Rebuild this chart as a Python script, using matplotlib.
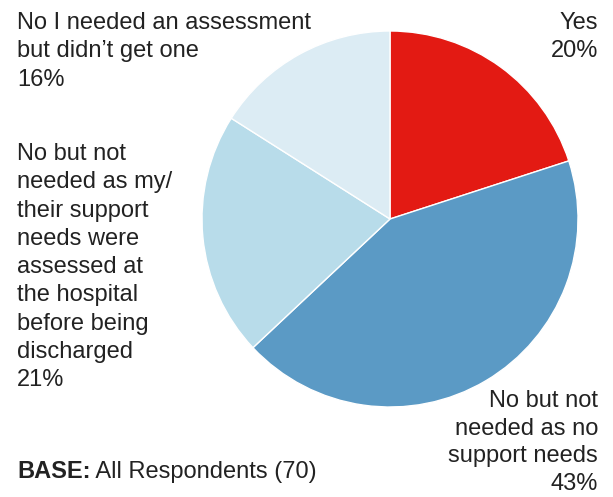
import matplotlib.pyplot as plt

plt.rcParams['font.family'] = ['Liberation Sans', 'DejaVu Sans']

labels = ["Yes",
          "No but not\nneeded as no\nsupport needs",
          "No but not\nneeded as my/\ntheir support\nneeds were\nassessed at\nthe hospital\nbefore being\ndischarged",
          "No I needed an assessment\nbut didn\u2019t get one"]
shares = [20, 43, 21, 16]
colors = ["#e31a13", "#5b9ac5", "#b8dcea", "#dcecf4"]

W, H = 613, 497
fig = plt.figure(figsize=(W / 100, H / 100), dpi=100)

# pie centre and radius in pixels
cx, cy, r = 390, 219, 188
ax = fig.add_axes([(cx - r) / W, (H - cy - r) / H, 2 * r / W, 2 * r / H])
ax.pie(shares, colors=colors, startangle=90, counterclock=False,
       wedgeprops=dict(edgecolor="white", linewidth=1))
ax.set_xlim(-1, 1)
ax.set_ylim(-1, 1)
ax.set_aspect("equal")
ax.axis("off")

txt = "#222222"
fs = 17


def label(x, y, i, ha, ls=1.37):
    fig.text(x / W, 1 - y / H, f"{labels[i]}\n{shares[i]}%", ha=ha, va="top",
             multialignment=ha, fontsize=fs, color=txt, linespacing=ls)


label(17, 12, 3, "left")
label(598, 12, 0, "right")
label(17, 143, 2, "left")
label(598, 390, 1, "right", ls=1.33)

base = fig.text(17 / W, 1 - 478 / H, "BASE:", fontsize=fs, fontweight="bold",
                color=txt, va="baseline")
fig.canvas.draw()
bb = base.get_window_extent()
fig.text(bb.x1 / W, 1 - 478 / H, " All Respondents (70)", fontsize=fs,
         color=txt, va="baseline")

fig.savefig("out.png", dpi=100)
